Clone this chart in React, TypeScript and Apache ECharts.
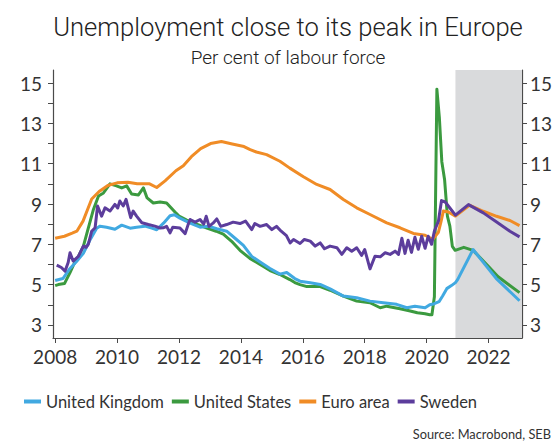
import React, { useEffect, useRef } from "react";
import * as echarts from "echarts";

const seriesNames = ["United Kingdom", "United States", "Euro area", "Sweden"];
const seriesColors = ["#41a9e1", "#3b9a3f", "#f08c26", "#5c3d9c"];

const ukData: [number, number][] = [
  [2008.0, 5.2], [2008.25, 5.3], [2008.48, 5.8], [2008.69, 6.15], [2008.91, 6.55],
  [2009.12, 7.2], [2009.34, 7.8], [2009.45, 7.9], [2009.66, 7.85], [2009.93, 7.75],
  [2010.15, 7.95], [2010.42, 7.8], [2010.63, 7.85], [2010.9, 7.9], [2011.12, 7.8],
  [2011.28, 7.72], [2011.5, 8.05], [2011.71, 8.42], [2011.85, 8.47], [2012.03, 8.3],
  [2012.36, 8.05], [2012.68, 7.85], [2012.95, 7.9], [2013.22, 7.77], [2013.54, 7.65],
  [2013.81, 7.3], [2014.08, 6.95], [2014.35, 6.4], [2014.62, 6.12], [2014.94, 5.8],
  [2015.26, 5.52], [2015.48, 5.6], [2015.74, 5.3], [2015.91, 5.17], [2016.24, 5.09],
  [2016.56, 5.01], [2016.88, 4.79], [2017.31, 4.43], [2017.74, 4.35], [2018.17, 4.18],
  [2018.6, 4.1], [2019.03, 4.02], [2019.36, 3.85], [2019.62, 3.93], [2019.95, 3.85],
  [2020.1, 4.0], [2020.25, 4.05], [2020.4, 4.15], [2020.52, 4.45], [2020.65, 4.8],
  [2020.8, 4.95], [2020.93, 5.1], [2021.0, 5.25], [2021.5, 6.74], [2022.25, 5.3],
  [2023.0, 4.2],
];

const usData: [number, number][] = [
  [2008.0, 4.95], [2008.1, 5.0], [2008.3, 5.05], [2008.48, 5.6], [2008.6, 6.0],
  [2008.75, 6.4], [2008.91, 6.9], [2009.07, 7.8], [2009.23, 8.7], [2009.4, 9.4],
  [2009.56, 9.55], [2009.77, 10.0], [2009.98, 9.9], [2010.15, 9.8], [2010.31, 9.9],
  [2010.47, 9.5], [2010.69, 9.45], [2010.85, 9.8], [2010.97, 9.3], [2011.17, 9.05],
  [2011.39, 9.1], [2011.6, 9.05], [2011.87, 8.6], [2012.0, 8.4], [2012.25, 8.2],
  [2012.57, 8.0], [2012.9, 7.8], [2013.2, 7.65], [2013.43, 7.5], [2013.7, 7.15],
  [2013.97, 6.7], [2014.29, 6.3], [2014.62, 6.0], [2014.94, 5.7], [2015.26, 5.5],
  [2015.58, 5.25], [2015.74, 5.1], [2015.91, 5.0], [2016.13, 4.9], [2016.56, 4.9],
  [2016.88, 4.72], [2017.31, 4.43], [2017.74, 4.18], [2018.17, 4.1], [2018.5, 3.85],
  [2018.71, 3.93], [2019.14, 3.8], [2019.47, 3.69], [2019.7, 3.6], [2019.95, 3.55],
  [2020.1, 3.5], [2020.17, 3.5], [2020.25, 4.4], [2020.33, 14.7], [2020.41, 13.3],
  [2020.49, 11.1], [2020.58, 10.2], [2020.67, 8.4], [2020.75, 7.9], [2020.83, 6.9],
  [2020.92, 6.7], [2021.2, 6.85], [2021.5, 6.7], [2022.0, 5.9], [2022.3, 5.4],
  [2023.0, 4.6],
];

const euroData: [number, number][] = [
  [2008.0, 7.3], [2008.3, 7.4], [2008.55, 7.55], [2008.7, 7.65], [2008.9, 8.15],
  [2009.18, 9.25], [2009.42, 9.62], [2009.7, 9.92], [2010.0, 10.05], [2010.35, 10.08],
  [2010.65, 10.0], [2011.05, 10.0], [2011.28, 9.82], [2011.55, 10.15], [2011.9, 10.65],
  [2012.14, 10.9], [2012.4, 11.35], [2012.7, 11.75], [2013.02, 12.0], [2013.37, 12.1],
  [2013.72, 11.98], [2014.1, 11.85], [2014.3, 11.7], [2014.5, 11.58], [2014.83, 11.45],
  [2015.26, 11.12], [2015.58, 10.78], [2016.02, 10.35], [2016.45, 9.97], [2016.88, 9.72],
  [2017.31, 9.22], [2017.74, 8.81], [2018.17, 8.48], [2018.71, 8.06], [2019.14, 7.82],
  [2019.57, 7.54], [2019.95, 7.45], [2020.2, 7.25], [2020.38, 7.6], [2020.46, 8.1],
  [2020.54, 8.65], [2020.7, 8.6], [2020.93, 8.4], [2021.38, 8.94], [2021.83, 8.64],
  [2022.26, 8.39], [2022.69, 8.18], [2023.0, 7.93],
];

const swedenData: [number, number][] = [
  [2008.05, 5.97], [2008.2, 5.85], [2008.32, 5.67], [2008.42, 6.1], [2008.48, 6.58],
  [2008.58, 6.17], [2008.75, 6.4], [2008.91, 6.91], [2009.0, 6.85], [2009.07, 7.0],
  [2009.18, 7.65], [2009.29, 7.82], [2009.37, 8.9], [2009.5, 8.4], [2009.61, 8.81],
  [2009.77, 8.65], [2009.93, 8.98], [2010.02, 8.8], [2010.09, 9.15], [2010.2, 8.9],
  [2010.29, 9.23], [2010.44, 8.32], [2010.52, 8.65], [2010.63, 8.4], [2010.8, 8.07],
  [2011.01, 7.98], [2011.22, 7.9], [2011.39, 7.81], [2011.49, 7.82], [2011.6, 7.89],
  [2011.71, 7.57], [2011.8, 7.85], [2012.03, 7.81], [2012.2, 7.53], [2012.3, 8.0],
  [2012.36, 8.23], [2012.52, 8.1], [2012.68, 8.23], [2012.8, 8.0], [2012.88, 8.39],
  [2012.97, 7.89], [2013.1, 8.05], [2013.22, 8.26], [2013.35, 7.89], [2013.54, 7.98],
  [2013.75, 8.1], [2013.97, 8.03], [2014.15, 8.15], [2014.35, 7.73], [2014.45, 8.03],
  [2014.62, 7.89], [2014.83, 7.98], [2015.0, 7.73], [2015.15, 7.89], [2015.3, 7.65],
  [2015.47, 7.43], [2015.59, 7.07], [2015.7, 7.24], [2015.91, 7.04], [2016.05, 7.24],
  [2016.24, 7.16], [2016.4, 6.91], [2016.56, 7.07], [2016.7, 6.78], [2016.88, 6.91],
  [2017.1, 6.83], [2017.26, 6.5], [2017.42, 6.83], [2017.58, 6.66], [2017.74, 6.83],
  [2017.9, 6.45], [2018.0, 6.74], [2018.17, 5.78], [2018.33, 6.41], [2018.5, 6.38],
  [2018.66, 6.58], [2018.82, 6.5], [2018.98, 6.66], [2019.09, 6.5], [2019.2, 7.3],
  [2019.3, 6.55], [2019.4, 7.2], [2019.51, 6.6], [2019.62, 7.35], [2019.73, 6.75],
  [2019.84, 7.4], [2019.95, 6.8], [2020.05, 7.4], [2020.16, 7.0], [2020.25, 7.66],
  [2020.38, 8.15], [2020.48, 9.17], [2020.6, 9.1], [2020.75, 8.8], [2020.93, 8.45],
  [2021.35, 8.97], [2021.83, 8.56], [2022.26, 8.11], [2022.69, 7.65], [2023.0, 7.37],
];

const yTickLabels = [3, 5, 7, 9, 11, 13, 15];
const yTicks = [3, 4, 5, 6, 7, 8, 9, 10, 11, 12, 13, 14, 15];
const xTickLabels = [2008, 2010, 2012, 2014, 2016, 2018, 2020, 2022];
const forecastStart = 2020.93;
const xMin = 2007.93;
const xMax = 2023.08;
const yMin = 2.35;
const yMax = 15.65;

const FONT = "Lato, 'Open Sans', sans-serif";
const TITLE_FONT = "Roboto, Lato, sans-serif";

export default function App() {
  const ref = useRef<HTMLDivElement>(null);
  useEffect(() => {
    const chart = echarts.init(ref.current!, null, { renderer: "svg" });
    const axisColor = "#4a4a4a";
    const yAxisBase = (pos: "left" | "right", margin: number) => ({
      type: "value",
      position: pos,
      min: yMin,
      max: yMax,
      axisLine: { show: true, lineStyle: { color: axisColor, width: 1.2 } },
      axisTick: { show: true, customValues: yTicks, length: 5, lineStyle: { color: axisColor } },
      axisLabel: {
        customValues: yTickLabels,
        fontSize: 19,
        color: "#333",
        fontFamily: FONT,
        margin,
      },
      splitLine: { show: false },
    });
    const dataSets = [ukData, usData, euroData, swedenData];
    const drawOrder = [1, 0, 2, 3];
    chart.setOption({
      animation: false,
      backgroundColor: "#ffffff",
      textStyle: { fontFamily: FONT },
      grid: { left: 53, right: 36, top: 70, bottom: 105, containLabel: false },
      xAxis: {
        type: "value",
        min: xMin,
        max: xMax,
        axisLine: { show: true, onZero: false, lineStyle: { color: axisColor, width: 1.2 } },
        axisTick: { show: true, customValues: xTickLabels, length: 5, lineStyle: { color: axisColor } },
        axisLabel: {
          customValues: xTickLabels,
          fontSize: 19,
          color: "#333",
          fontFamily: FONT,
          margin: 9,
          formatter: (v: number) => String(v),
        },
        splitLine: { show: false },
      },
      yAxis: [yAxisBase("left", 11), yAxisBase("right", 8)],
      legend: {
        data: seriesNames,
        left: 24,
        top: 393,
        icon: "rect",
        itemWidth: 17,
        itemHeight: 4,
        itemGap: 8,
        padding: 0,
        textStyle: { fontSize: 16.5, color: "#333", fontFamily: FONT },
      },
      graphic: [
        {
          type: "text",
          x: 288,
          y: 27,
          style: {
            text: "Unemployment close to its peak in Europe",
            fill: "#222",
            font: `300 25.6px ${TITLE_FONT}`,
            textAlign: "center",
            textVerticalAlign: "middle",
          },
        },
        {
          type: "text",
          x: 288,
          y: 57,
          style: {
            text: "Per cent of labour force",
            fill: "#222",
            font: `300 19px ${TITLE_FONT}`,
            textAlign: "center",
            textVerticalAlign: "middle",
          },
        },
        {
          type: "text",
          right: 7,
          bottom: 3,
          style: {
            text: "Source: Macrobond, SEB",
            fill: "#333",
            font: `12.8px ${FONT}`,
          },
        },
      ],
      series: [
        {
          type: "line",
          name: "forecast",
          data: [],
          z: 1,
          silent: true,
          markArea: {
            silent: true,
            itemStyle: { color: "#d9dadc" },
            data: [[{ xAxis: forecastStart }, { xAxis: xMax }]],
          },
        },
        ...drawOrder.map((i) => ({
          type: "line",
          name: seriesNames[i],
          data: dataSets[i],
          showSymbol: false,
          symbol: "none",
          z: 3,
          color: seriesColors[i],
          lineStyle: { width: 3, color: seriesColors[i], join: "round" },
        })),
      ],
    });
    return () => chart.dispose();
  }, []);
  return (
    <div
      ref={ref}
      style={{ position: "fixed", left: 0, top: 0, width: 558, height: 443 }}
    />
  );
}
